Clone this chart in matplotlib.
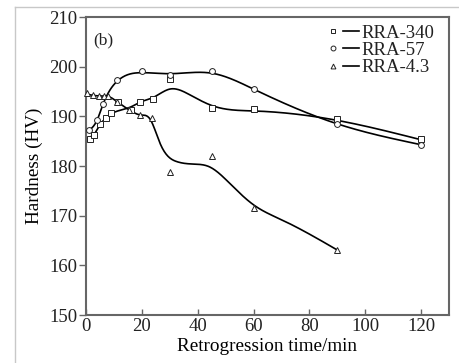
import numpy as np
import matplotlib
matplotlib.use('Agg')
import matplotlib.pyplot as plt
from matplotlib.lines import Line2D
from matplotlib.legend_handler import HandlerTuple

# measured points
t_340 = [1.5, 3, 5, 7, 9, 11.5, 16, 19.5, 24, 30, 45, 60, 90, 120]
hv_340 = [185.5, 186.3, 188.5, 189.7, 190.6, 192.8, 191.2, 192.8, 193.5, 197.5, 191.7, 191.4, 189.4, 185.4]

t_57 = [1, 4, 6, 11, 20, 30, 45, 60, 90, 120]
hv_57 = [187.3, 189.3, 192.5, 197.3, 199.1, 198.4, 199.1, 195.5, 188.5, 184.3]

t_43 = [0.5, 2.5, 4.5, 6.3, 8, 11, 15.5, 19.5, 23.5, 30, 45, 60, 90]
hv_43 = [194.8, 194.3, 194.2, 194.2, 194.2, 193.0, 191.2, 190.3, 189.6, 178.8, 182.0, 171.6, 163.1]

# fitted curves as drawn in the figure
fit_t_340 = [0.5, 3, 5, 7, 9, 12, 16, 20, 24, 30, 37, 45, 60, 90, 120]
fit_hv_340 = [185.7, 186.5, 188.3, 189.6, 190.5, 191.2, 191.9, 193.0, 193.8, 195.5, 194.4, 192.2, 191.1, 189.2, 185.3]

fit_t_57 = [0.5, 4, 6, 11, 20, 30, 45, 60, 90, 120]
fit_hv_57 = [187.0, 189.3, 192.3, 197.0, 198.8, 198.6, 198.7, 195.5, 188.5, 184.3]

fit_t_43 = [0, 3, 6, 8.5, 11, 15.5, 19.5, 23, 26.5, 32.5, 38.5, 44, 51.5, 60, 70, 90]
fit_hv_43 = [194.5, 194.2, 194.1, 193.9, 193.0, 191.3, 190.3, 189.4, 184.6, 180.9, 180.4, 179.9, 176.5, 172.2, 169.2, 163.1]

labels = ['RRA-340', 'RRA-57', 'RRA-4.3']
markers = ['s', 'o', '^']


def natural_spline(x, y, n=400):
    # plain natural cubic spline, just for drawing the smooth curves
    x = np.asarray(x, float)
    y = np.asarray(y, float)
    k = len(x)
    h = np.diff(x)
    A = np.zeros((k, k))
    r = np.zeros(k)
    A[0, 0] = A[-1, -1] = 1
    for i in range(1, k - 1):
        A[i, i - 1] = h[i - 1]
        A[i, i] = 2 * (h[i - 1] + h[i])
        A[i, i + 1] = h[i]
        r[i] = 6 * ((y[i + 1] - y[i]) / h[i] - (y[i] - y[i - 1]) / h[i - 1])
    M = np.linalg.solve(A, r)
    xs = np.linspace(x[0], x[-1], n)
    j = np.clip(np.searchsorted(x, xs) - 1, 0, k - 2)
    a = x[j + 1] - xs
    b = xs - x[j]
    hj = h[j]
    ys = (M[j] * a**3 + M[j + 1] * b**3) / (6 * hj) \
        + (y[j] / hj - M[j] * hj / 6) * a + (y[j + 1] / hj - M[j + 1] * hj / 6) * b
    return xs, ys


plt.rcParams['font.family'] = 'Liberation Serif'
plt.rcParams['text.color'] = '#222222'

fig = plt.figure(figsize=(4.6, 3.63), dpi=100)
ax = fig.add_axes([0.187, 0.132, 0.789, 0.821])

# light frame around the picture
fig.add_artist(Line2D([0.033, 1.0], [0.981, 0.981], color='#c8c8c8', lw=1))
fig.add_artist(Line2D([0.033, 0.033], [0.0, 0.981], color='#c8c8c8', lw=1))

pts = [(t_340, hv_340), (t_57, hv_57), (t_43, hv_43)]
fits = [(fit_t_340, fit_hv_340), (fit_t_57, fit_hv_57), (fit_t_43, fit_hv_43)]

handles = []
for (t, hv), (ft, fhv), lab, m in zip(pts, fits, labels, markers):
    xs, ys = natural_spline(ft, fhv)
    ax.plot(xs, ys, color='black', lw=1.2, zorder=2, clip_on=False)
    ms = 4.2 if m != '^' else 4.0
    ax.plot(t, hv, ls='none', marker=m, ms=ms, mfc='white', mec='#222222',
            mew=0.7, zorder=3, clip_on=False)
    hm = Line2D([], [], ls='none', marker=m, ms=3.5, mfc='white', mec='#222222', mew=0.7)
    hl = Line2D([], [], color='black', lw=1.2)
    handles.append((hm, hl))

ax.legend(handles, labels, handler_map={tuple: HandlerTuple(ndivide=None, pad=0.1)},
          loc='upper right', bbox_to_anchor=(0.99, 1.012), frameon=False,
          fontsize=13.5, handlelength=1.8, handletextpad=0.12, labelspacing=0.0,
          borderaxespad=0.2)

ax.text(0.02, 0.95, '(b)', transform=ax.transAxes, fontsize=12.5, va='top', ha='left')

ax.set_xlim(0, 130)
ax.set_ylim(150, 210)
ax.set_xticks([0, 20, 40, 60, 80, 100, 120])
ax.set_yticks([150, 160, 170, 180, 190, 200, 210])

for s in ax.spines.values():
    s.set_color('#666666')
    s.set_linewidth(1.5)

ax.tick_params(axis='x', direction='in', length=4, width=1, color='#666666',
               labelsize=13.5, pad=2, labelcolor='#222222')
ax.tick_params(axis='y', direction='out', length=5, width=1, color='#666666',
               labelsize=13.5, pad=1, labelcolor='#222222')

ax.set_xlabel('Retrogression time/min', fontsize=13.8, labelpad=2)
ax.set_ylabel('Hardness (HV)', fontsize=13.8, labelpad=5)

fig.savefig('out.png', dpi=100)
